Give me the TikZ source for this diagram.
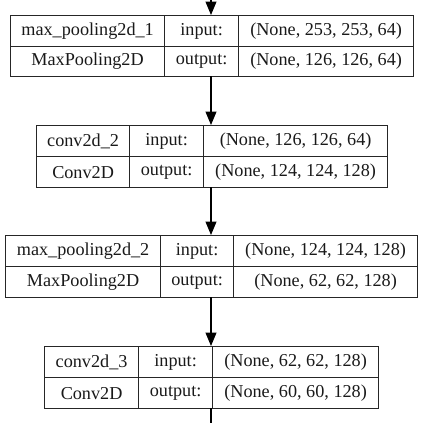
\documentclass[tikz,border=0pt]{standalone}
\usepackage{fontspec}
\setmainfont{Liberation Serif}
\usetikzlibrary{arrows.meta}
\begin{document}
\begin{tikzpicture}[x=1pt,y=-1pt,
  cell/.style={draw=black!85,line width=1.2pt,rectangle,inner sep=0pt,anchor=north west,
    font=\fontsize{18.2}{20}\selectfont,text=black!90},
  conn/.style={draw=black,line width=1.2pt,-{Triangle[length=13.5pt,width=11pt]}}]
\useasboundingbox (0,0) rectangle (423,423);
% layer 1
\node[cell,minimum width=154pt,minimum height=31pt] (l1n) at (10,15) {max\_pooling2d\_1};
\node[cell,minimum width=154pt,minimum height=30pt] (l1t) at (10,46) {MaxPooling2D};
\node[cell,minimum width=74pt,minimum height=31pt] (l1i) at (164,15) {input:};
\node[cell,minimum width=74pt,minimum height=30pt] (l1o) at (164,46) {output:};
\node[cell,minimum width=175pt,minimum height=31pt] (l1a) at (238,15) {(None, 253, 253, 64)};
\node[cell,minimum width=175pt,minimum height=30pt] (l1b) at (238,46) {(None, 126, 126, 64)};
% layer 2
\node[cell,minimum width=93pt,minimum height=31pt] (l2n) at (36,125) {conv2d\_2};
\node[cell,minimum width=93pt,minimum height=31pt] (l2t) at (36,156) {Conv2D};
\node[cell,minimum width=74pt,minimum height=31pt] (l2i) at (129,125) {input:};
\node[cell,minimum width=74pt,minimum height=31pt] (l2o) at (129,156) {output:};
\node[cell,minimum width=184pt,minimum height=31pt] (l2a) at (203,125) {(None, 126, 126, 64)};
\node[cell,minimum width=184pt,minimum height=31pt] (l2b) at (203,156) {(None, 124, 124, 128)};
% layer 3
\node[cell,minimum width=155pt,minimum height=31pt] (l3n) at (5,235) {max\_pooling2d\_2};
\node[cell,minimum width=155pt,minimum height=31pt] (l3t) at (5,266) {MaxPooling2D};
\node[cell,minimum width=73pt,minimum height=31pt] (l3i) at (160,235) {input:};
\node[cell,minimum width=73pt,minimum height=31pt] (l3o) at (160,266) {output:};
\node[cell,minimum width=184pt,minimum height=31pt] (l3a) at (233,235) {(None, 124, 124, 128)};
\node[cell,minimum width=184pt,minimum height=31pt] (l3b) at (233,266) {(None, 62, 62, 128)};
% layer 4
\node[cell,minimum width=94pt,minimum height=31pt] (l4n) at (44,346) {conv2d\_3};
\node[cell,minimum width=94pt,minimum height=31pt] (l4t) at (44,377) {Conv2D};
\node[cell,minimum width=74pt,minimum height=31pt] (l4i) at (138,346) {input:};
\node[cell,minimum width=74pt,minimum height=31pt] (l4o) at (138,377) {output:};
\node[cell,minimum width=166pt,minimum height=31pt] (l4a) at (212,346) {(None, 62, 62, 128)};
\node[cell,minimum width=166pt,minimum height=31pt] (l4b) at (212,377) {(None, 60, 60, 128)};
% connectors
\coordinate (top) at (211,-4);
\coordinate (bot) at (211,424);
\coordinate (t1) at (211,15);
\coordinate (b1) at (211,76);
\coordinate (t2) at (211,125);
\coordinate (b2) at (211,187);
\coordinate (t3) at (211,235);
\coordinate (b3) at (211,297);
\coordinate (t4) at (211,346);
\coordinate (b4) at (211,408);
\draw[conn] (top) -- (t1);
\draw[conn] (b1) -- (t2);
\draw[conn] (b2) -- (t3);
\draw[conn] (b3) -- (t4);
\draw[line width=1.2pt] (b4) -- (bot);
\end{tikzpicture}
\end{document}
